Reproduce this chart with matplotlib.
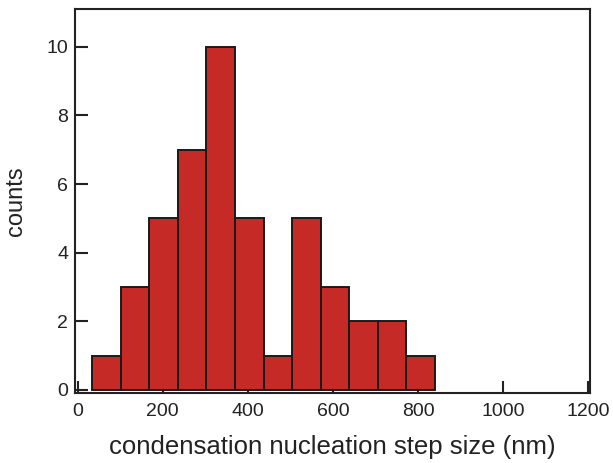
import matplotlib.pyplot as plt
import numpy as np

plt.rcParams['font.family'] = ['Liberation Sans', 'DejaVu Sans']

# histogram: bin edges (nm) and counts per bin
bin_edges = [35, 102, 169, 236, 303, 370, 437, 504, 571, 638, 705, 772, 839]
counts    = [1, 3, 5, 7, 10, 5, 1, 5, 3, 2, 2, 1]

x_ticks = [0, 200, 400, 600, 800, 1000, 1200]
y_ticks = [0, 2, 4, 6, 8, 10]

bar_color  = '#c62a27'
axis_color = '#222222'

fig = plt.figure(figsize=(6.13, 4.63), dpi=100)
ax = fig.add_axes([0.1223, 0.1512, 0.8402, 0.8294])

edges  = np.array(bin_edges, dtype=float)
widths = np.diff(edges)
ax.bar(edges[:-1], counts, width=widths, align='edge',
       color=bar_color, edgecolor='#1a1a1a', linewidth=1.4)

ax.set_axisbelow(True)
ax.set_xlim(-6, 1204)
ax.set_ylim(-0.09, 11.1)
ax.set_xticks(x_ticks)
ax.set_yticks(y_ticks)

for s in ax.spines.values():
    s.set_linewidth(1.5)
    s.set_color(axis_color)

ax.tick_params(axis='both', direction='in', length=9, width=1.5,
               color=axis_color, labelcolor=axis_color, labelsize=14)
ax.tick_params(axis='x', pad=7)
ax.tick_params(axis='y', pad=5)

ax.set_xlabel("condensation nucleation step size (nm)", fontsize=18.5,
              color=axis_color, labelpad=11)
ax.set_ylabel("counts", fontsize=17, color=axis_color, labelpad=14)

fig.savefig("out.png", dpi=100)
